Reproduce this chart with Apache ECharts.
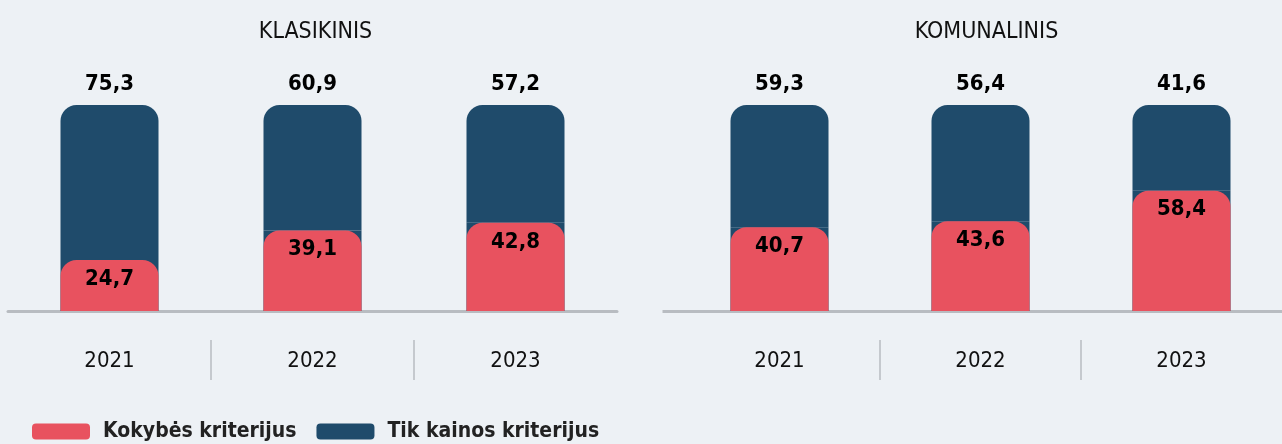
<!DOCTYPE html>
<html>
<head>
<meta charset="utf-8">
<script src="https://cdn.jsdelivr.net/npm/echarts@6/dist/echarts.min.js"></script>
<style>
  html, body { margin: 0; padding: 0; background: #edf1f5; }
  #chart { width: 1282px; height: 444px; }
</style>
</head>
<body>
<div id="chart"></div>
<script>
// duomenys
var years = ['2021', '2022', '2023'];
var klasikinisKokybe = [24.7, 39.1, 42.8];
var klasikinisKaina = [75.3, 60.9, 57.2];
var komunalinisKokybe = [40.7, 43.6, 58.4];
var komunalinisKaina = [59.3, 56.4, 41.6];
var panelTitles = ['KLASIKINIS', 'KOMUNALINIS'];

var RED = '#e8525f';
var BLUE = '#1f4b6b';
var FONT = '"Liberation Sans Narrow", "DejaVu Sans Condensed", Roboto, sans-serif';

function fmt(p) {
    return String(p.value).replace('.', ',');
}

var chart = echarts.init(document.getElementById('chart'));

function barSeries(idx, kokybe, kaina) {
    return [
        {   // pilnas mėlynas stulpelis: apatinė dalis
            name: 'Tik kainos kriterijus',
            type: 'bar',
            xAxisIndex: idx, yAxisIndex: idx,
            stack: 'visas' + idx,
            barWidth: 98,
            itemStyle: { color: BLUE },
            silent: true,
            data: kokybe
        },
        {
            name: 'Tik kainos kriterijus',
            type: 'bar',
            xAxisIndex: idx, yAxisIndex: idx,
            stack: 'visas' + idx,
            barWidth: 98,
            itemStyle: { color: BLUE, borderRadius: [16, 16, 0, 0] },
            label: {
                show: true, position: 'top', distance: 10,
                formatter: fmt,
                color: '#000', fontSize: 22, fontWeight: 'bold', fontFamily: FONT
            },
            data: kaina
        },
        {
            name: 'Kokybės kriterijus',
            type: 'bar',
            xAxisIndex: idx, yAxisIndex: idx,
            barWidth: 98,
            barGap: '-100%',
            z: 3,
            itemStyle: { color: RED, borderRadius: [16, 16, 0, 0] },
            label: {
                show: true, position: 'insideTop', distance: 8,
                formatter: fmt,
                color: '#000', fontSize: 22, fontWeight: 'bold', fontFamily: FONT
            },
            data: kokybe
        }
    ];
}

var panelLeft = [8, 679];
var panelWidth = 609;

var grids = [], xAxes = [], yAxes = [];
for (var i = 0; i < 2; i++) {
    grids.push({ left: panelLeft[i], width: panelWidth, top: 105, bottom: 133 });
    xAxes.push({
        type: 'category', gridIndex: i, data: years,
        axisLine: { show: true, lineStyle: { color: '#b8bcc1', width: 3 } },
        axisTick: { show: false },
        axisLabel: { margin: 39, fontSize: 22, color: '#111', fontFamily: FONT }
    });
    yAxes.push({ type: 'value', gridIndex: i, min: 0, max: 100, show: false });
}
// skiriamosios linijos tarp metų
for (var j = 0; j < 2; j++) {
    grids.push({ left: panelLeft[j], width: panelWidth, top: 340, height: 40 });
    xAxes.push({
        type: 'category', gridIndex: 2 + j, data: years,
        axisLine: { show: false }, axisTick: { show: false }, axisLabel: { show: false },
        splitLine: { show: true, showMinLine: false, showMaxLine: false,
                     lineStyle: { color: '#c5c9ce', width: 2 } }
    });
    yAxes.push({ type: 'value', gridIndex: 2 + j, show: false });
}

var option = {
    backgroundColor: '#edf1f5',
    animation: false,
    title: panelTitles.map(function (t, i) {
        return {
            text: t,
            left: panelLeft[i] + panelWidth / 2 - 2, top: 16,
            textAlign: 'center',
            textStyle: { fontSize: 23, fontWeight: 'normal', color: '#111', fontFamily: FONT }
        };
    }),
    // ašies linijos pradžia dešiniajame skydelyje
    graphic: [{
        type: 'line', left: 660, top: 309,
        shape: { x1: 0, y1: 0, x2: 21, y2: 0 },
        style: { stroke: '#b8bcc1', lineWidth: 3 }
    }],
    legend: {
        left: 27, top: 416,
        itemWidth: 58, itemHeight: 16, itemGap: 20,
        icon: 'roundRect',
        data: ['Kokybės kriterijus', 'Tik kainos kriterijus'],
        textStyle: { fontSize: 21, fontWeight: 'bold', color: '#222', fontFamily: FONT, padding: [0, 0, 0, 8] }
    },
    grid: grids,
    xAxis: xAxes,
    yAxis: yAxes,
    series: [].concat(
        barSeries(0, klasikinisKokybe, klasikinisKaina),
        barSeries(1, komunalinisKokybe, komunalinisKaina)
    )
};

chart.setOption(option);
</script>
</body>
</html>
